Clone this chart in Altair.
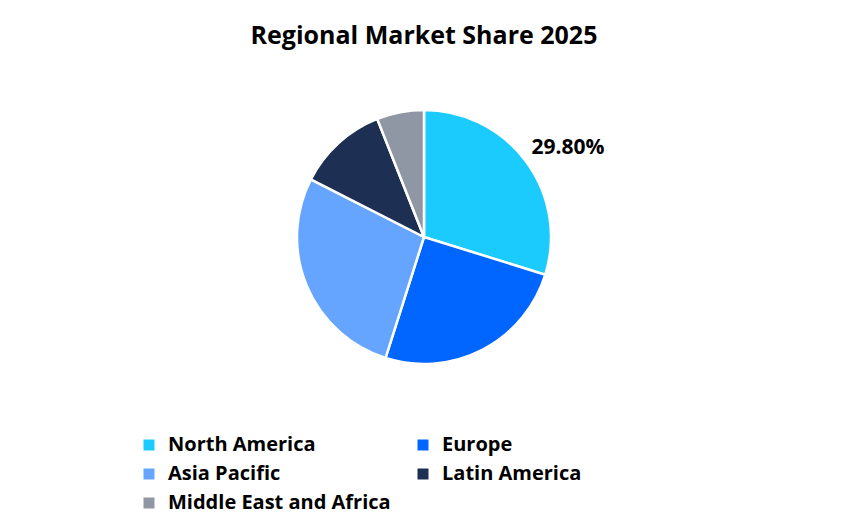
import altair as alt
import pandas as pd

regions = ["North America", "Europe", "Asia Pacific", "Latin America", "Middle East and Africa"]
shares = [29.8, 25.1, 27.6, 11.5, 6.0]
labels = ["29.80%", "", "", "", ""]
colors = ["#1ccbfd", "#0066ff", "#66a5ff", "#1d3053", "#9097a4"]

# legend fills column by column, so order the domain to read row by row like the reference
legend_order = [0, 2, 4, 1, 3]
domain = [regions[i] for i in legend_order]
range_ = [colors[i] for i in legend_order]

df = pd.DataFrame({"region": regions, "share": shares, "label": labels, "order": list(range(len(regions)))})

base = alt.Chart(df).encode(
    theta=alt.Theta("share:Q", stack=True),
    order=alt.Order("order:Q"),
)

pie = base.mark_arc(outerRadius=127, stroke="white", strokeWidth=2.5).encode(
    x=alt.value(416),
    y=alt.value(179),
    color=alt.Color(
        "region:N",
        scale=alt.Scale(domain=domain, range=range_),
        legend=alt.Legend(
            title=None,
            orient="none",
            legendX=131,
            legendY=377,
            columns=2,
            symbolType="square",
            symbolSize=121,
            symbolStrokeWidth=0,
            labelFont="Open Sans",
            labelFontWeight="bold",
            labelFontSize=20,
            labelColor="#000000",
            labelLimit=400,
            rowPadding=9,
            columnPadding=22,
            symbolOffset=0,
            labelOffset=9,
        ),
    ),
)

text = base.mark_text(
    radius=170, font="Open Sans", fontWeight="bold", fontSize=21, color="#000000", dx=7, dy=12
).encode(
    x=alt.value(416),
    y=alt.value(179),
    text="label:N",
)

chart = (
    alt.layer(pie, text)
    .properties(
        width=832,
        height=465,
        autosize=alt.AutoSizeParams(type="none"),
        padding={"left": 0, "top": 50, "right": 0, "bottom": 0},
        title=alt.TitleParams(
            "Regional Market Share 2025",
            font="Open Sans",
            fontWeight="bold",
            fontSize=25,
            color="#000000",
            anchor="middle",
            offset=9,
        ),
    )
    .configure(background="white", view=alt.ViewConfig(stroke="transparent", strokeWidth=0))
)

chart.save("out.html", embed_options={"renderer": "svg", "actions": False})
